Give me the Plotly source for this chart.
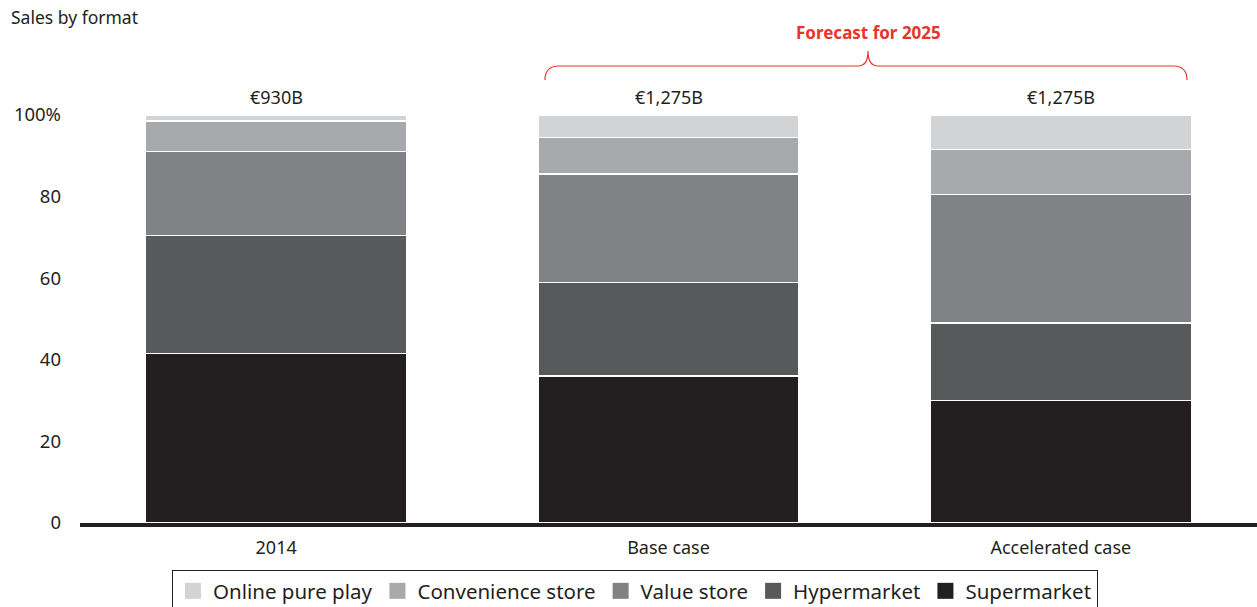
import plotly.graph_objects as go

# Share of grocery sales by store format (percent of total)
categories = ["2014", "Base case", "Accelerated case"]
totals = ["€930B", "€1,275B", "€1,275B"]

supermarket = [41.5, 36.0, 30.0]
hypermarket = [29.0, 23.0, 19.0]
value_store = [20.5, 26.5, 31.5]
convenience = [7.5, 9.0, 11.0]
online = [1.5, 5.5, 8.5]

y_ticks = [0, 20, 40, 60, 80, 100]
y_tick_text = ["0", "20", "40", "60", "80", "100%"]

series = [
    ("Supermarket", supermarket, "#231f20"),
    ("Hypermarket", hypermarket, "#58595b"),
    ("Value store", value_store, "#808285"),
    ("Convenience store", convenience, "#a7a9ac"),
    ("Online pure play", online, "#d1d3d4"),
]

FONT = "'Noto Sans', Lato, sans-serif"
INK = "#231f20"
RED = "#e8352a"

fig = go.Figure()
for name, vals, color in series:
    fig.add_trace(go.Bar(
        x=categories, y=vals, name=name, legendgroup=name,
        marker=dict(color=color, line=dict(color="white", width=1.5)),
        showlegend=False, hoverinfo="skip",
    ))

# Legend keys: large square swatches, one per format
for name, _, color in series:
    fig.add_trace(go.Scatter(
        x=[None], y=[None], mode="markers", name=name, legendgroup=name,
        marker=dict(symbol="square", size=18, color=color,
                    line=dict(width=0)),
        showlegend=True, hoverinfo="skip",
    ))

# Totals above each bar
for i, tot in enumerate(totals):
    fig.add_annotation(x=i, y=1.044, xref="x", yref="paper",
                       text=tot, showarrow=False,
                       xanchor="center", yanchor="middle",
                       font=dict(size=18, color=INK, family=FONT))

# Red brace over the two 2025 scenarios
def px_x(v):
    return (v - 80) / 1177.0

def px_y(v):
    return (523 - v) / 408.0

left, mid, right = 545, 868, 1187
y_end, y_bar, y_peak = 80, 66, 51
r = 14
path = (
    f"M {px_x(left)},{px_y(y_end)} "
    f"Q {px_x(left)},{px_y(y_bar)} {px_x(left + r)},{px_y(y_bar)} "
    f"L {px_x(mid - 10)},{px_y(y_bar)} "
    f"Q {px_x(mid)},{px_y(y_bar)} {px_x(mid)},{px_y(y_peak)} "
    f"Q {px_x(mid)},{px_y(y_bar)} {px_x(mid + 10)},{px_y(y_bar)} "
    f"L {px_x(right - r)},{px_y(y_bar)} "
    f"Q {px_x(right)},{px_y(y_bar)} {px_x(right)},{px_y(y_end)}"
)
fig.add_shape(type="path", path=path, xref="paper", yref="paper",
              line=dict(color=RED, width=1.2))
fig.add_annotation(x=px_x(mid), y=px_y(32), xref="paper", yref="paper",
                   text="<b>Forecast for 2025</b>", showarrow=False,
                   xanchor="center", yanchor="middle",
                   font=dict(size=17, color=RED, family=FONT))

fig.update_layout(
    width=1257, height=607,
    margin=dict(l=80, r=0, t=115, b=84),
    barmode="stack",
    bargap=0.334,
    plot_bgcolor="white",
    paper_bgcolor="white",
    font=dict(family=FONT, color=INK),
    title=dict(text="Sales by format", x=11 / 1257, y=1 - 18 / 607,
               xref="container", yref="container",
               xanchor="left", yanchor="middle",
               font=dict(size=17.5, color=INK, family=FONT)),
    xaxis=dict(
        type="category",
        showline=True, linecolor=INK, linewidth=4,
        ticks="", showgrid=False, zeroline=False,
        tickfont=dict(size=18, color=INK),
        ticklabelstandoff=5,
        range=[-0.5, 2.5],
    ),
    yaxis=dict(
        range=[0, 100], tickvals=y_ticks, ticktext=y_tick_text,
        showgrid=False, zeroline=False, showline=False, ticks="",
        tickfont=dict(size=18.5, color=INK),
        ticklabelstandoff=18,
    ),
    legend=dict(
        orientation="h", traceorder="reversed",
        itemsizing="trace",
        xref="container", yref="container",
        x=635 / 1257, xanchor="center",
        y=1 - 570 / 607, yanchor="top",
        bordercolor=INK, borderwidth=1,
        font=dict(size=20.5, color=INK, family=FONT),
        itemwidth=30,
    ),
    showlegend=True,
)

fig.write_html("out.html")
